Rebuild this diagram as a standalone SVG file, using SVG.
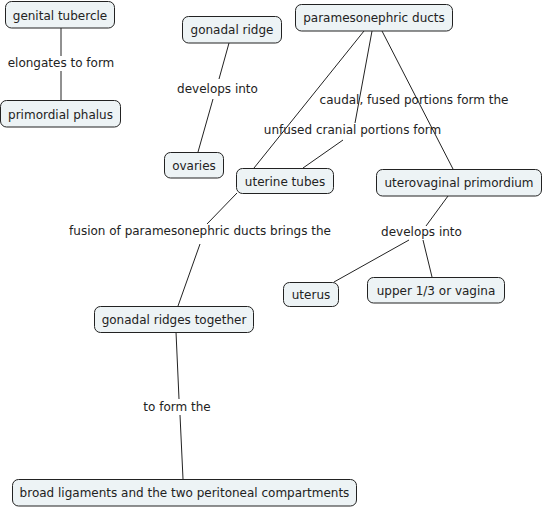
<svg xmlns="http://www.w3.org/2000/svg" width="545" height="509" viewBox="0 0 545 509">
<style>
.node rect{fill:#edf3f5;stroke:#222;stroke-width:1}
text{font-family:"DejaVu Sans",Verdana,sans-serif;font-size:12px;fill:#222;text-anchor:middle}
.conn line{stroke:#222;stroke-width:1}
</style>
<rect width="545" height="509" fill="#fff"/>
<g class="conn">
<line x1="61" y1="28" x2="61" y2="56"/>
<line x1="61" y1="71" x2="61" y2="100"/>
<line x1="229" y1="43" x2="219" y2="79"/>
<line x1="213" y1="99" x2="198" y2="152"/>
<line x1="364" y1="31" x2="254" y2="168"/>
<line x1="372" y1="31" x2="355" y2="123"/>
<line x1="343" y1="140" x2="303" y2="168"/>
<line x1="382" y1="31" x2="453" y2="169"/>
<line x1="237" y1="193" x2="207" y2="224"/>
<line x1="200" y1="244" x2="178" y2="306"/>
<line x1="448" y1="196" x2="426" y2="226"/>
<line x1="409" y1="240" x2="334" y2="282"/>
<line x1="423" y1="240" x2="432" y2="277"/>
<line x1="176" y1="332" x2="179" y2="399"/>
<line x1="180" y1="415" x2="183" y2="479"/>
</g>
<g id="n-genital-tubercle" class="node"><rect x="5.5" y="1.5" width="109" height="26.5" rx="6"/><text x="60" y="19.5">genital tubercle</text></g>
<g id="n-primordial-phalus" class="node"><rect x="0.5" y="100.5" width="120" height="26.5" rx="6"/><text x="60.5" y="118.5">primordial phalus</text></g>
<g id="n-gonadal-ridge" class="node"><rect x="182.5" y="16.5" width="99" height="26.5" rx="6"/><text x="232" y="34">gonadal ridge</text></g>
<g id="n-ovaries" class="node"><rect x="164.5" y="152.5" width="59" height="25.5" rx="6"/><text x="194" y="170">ovaries</text></g>
<g id="n-paramesonephric-ducts" class="node"><rect x="295.5" y="4.5" width="157" height="26.5" rx="6"/><text x="374" y="22">paramesonephric ducts</text></g>
<g id="n-uterine-tubes" class="node"><rect x="236.5" y="168.5" width="97" height="25" rx="6"/><text x="285" y="185.5">uterine tubes</text></g>
<g id="n-uterovaginal-primordium" class="node"><rect x="376.5" y="169.5" width="165" height="26.5" rx="6"/><text x="459" y="187">uterovaginal primordium</text></g>
<g id="n-uterus" class="node"><rect x="283.5" y="282.5" width="55" height="24" rx="6"/><text x="311" y="299">uterus</text></g>
<g id="n-upper-vagina" class="node"><rect x="367.5" y="277.5" width="137" height="25.5" rx="6"/><text x="436" y="294.5">upper 1/3 or vagina</text></g>
<g id="n-gonadal-ridges-together" class="node"><rect x="94.5" y="306.5" width="159" height="26" rx="6"/><text x="174" y="324">gonadal ridges together</text></g>
<g id="n-broad-ligaments" class="node"><rect x="12.5" y="479.5" width="344" height="26.5" rx="6"/><text x="184.5" y="497">broad ligaments and the two peritoneal compartments</text></g>
<g id="labels">
<text x="61" y="67">elongates to form</text>
<text x="217.5" y="93">develops into</text>
<text x="414" y="104">caudal, fused portions form the</text>
<text x="352.5" y="134">unfused cranial portions form</text>
<text x="200" y="235">fusion of paramesonephric ducts brings the</text>
<text x="421.5" y="236">develops into</text>
<text x="177" y="411">to form the</text>
</g>
</svg>
